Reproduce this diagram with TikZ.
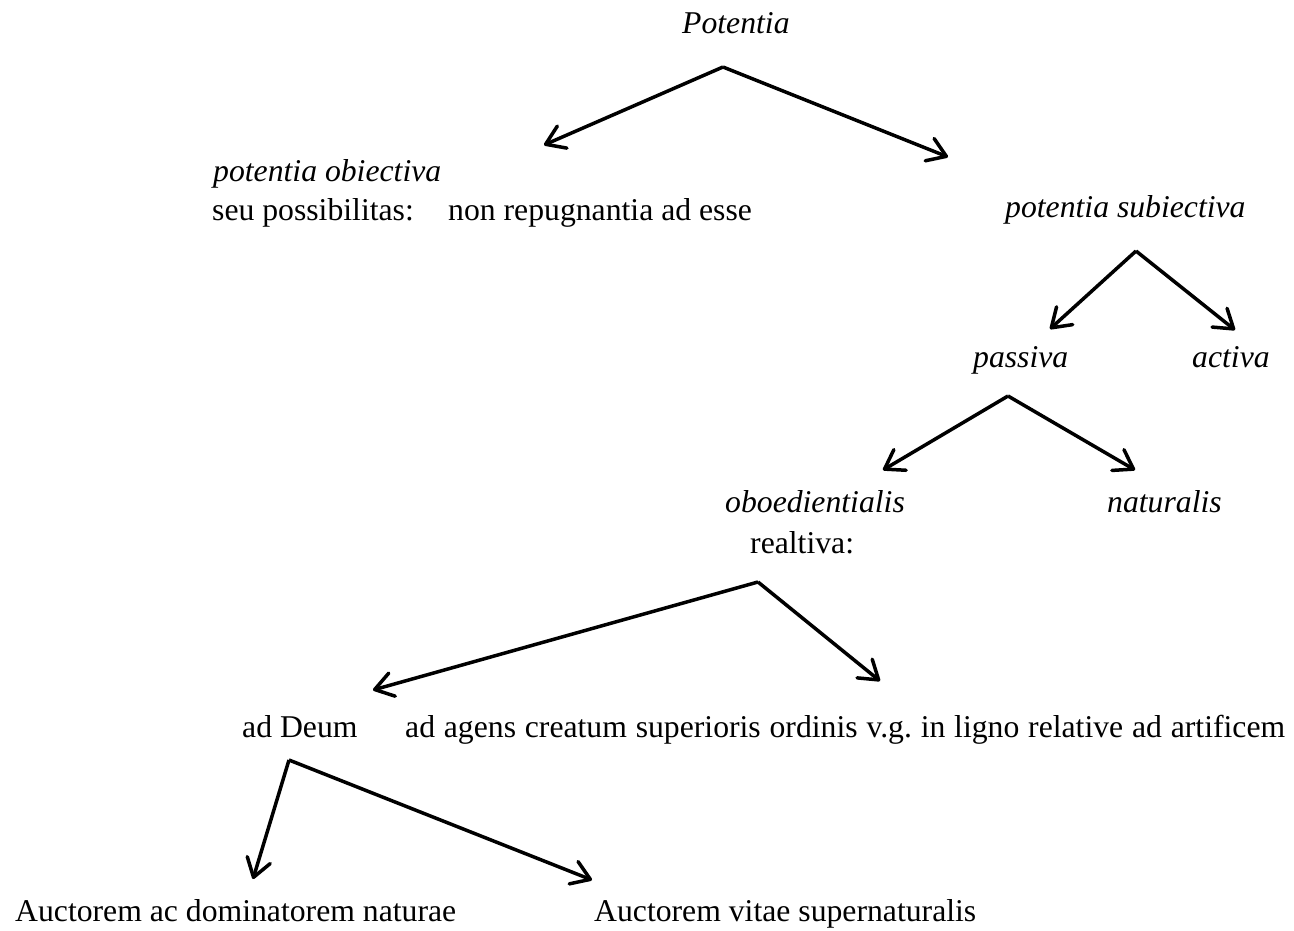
\documentclass[tikz,border=0pt]{standalone}
\usepackage{fontspec}
\setmainfont{Liberation Serif}
\usetikzlibrary{arrows.meta}
\tikzset{
  lbl/.style={anchor=base west, inner sep=0pt, font=\fontsize{31.7}{38}\selectfont\frenchspacing},
  ilbl/.style={lbl, font=\fontsize{31.7}{38}\selectfont\itshape},
  conn/.style={line width=3.5pt, line join=miter, -{Straight Barb[length=18pt,width=24pt,line width=3.5pt,round]}}
}
\begin{document}
\begin{tikzpicture}[x=1pt,y=-1pt]
\useasboundingbox (0,0) rectangle (1294,931);
% texts
\node[ilbl] (pot) at (682,34) {Potentia};
\node[ilbl] (obj) at (213,182) {potentia obiectiva};
\node[lbl] (seu) at (212,220) {seu possibilitas:};
\node[lbl] (nonrep) at (448,220) {non repugnantia ad esse};
\node[ilbl] (subj) at (1005,218) {potentia subiectiva};
\node[ilbl] (pass) at (973,367) {passiva};
\node[ilbl] (act) at (1192,367) {activa};
\node[ilbl] (obo) at (725,512) {oboedientialis};
\node[lbl] (rel) at (750,553) {realtiva:};
\node[ilbl] (nat) at (1107,512) {naturalis};
\node[lbl] (deum) at (242,737) {ad Deum};
\node[lbl] (agens) at (405,737) {\spaceskip=8.8pt plus 1pt ad agens creatum superioris ordinis v.g. in ligno relative ad artificem};
\node[lbl] (auct1) at (15,921) {Auctorem ac dominatorem naturae};
\node[lbl] (auct2) at (594,921) {Auctorem vitae supernaturalis};
% connector points
\coordinate (a1) at (723,67);
\coordinate (t1l) at (544,145);
\coordinate (t1r) at (948,157);
\coordinate (a2) at (1136,251);
\coordinate (t2l) at (1050,329);
\coordinate (t2r) at (1235,330);
\coordinate (a3) at (1008,396);
\coordinate (t3l) at (883,470);
\coordinate (t3r) at (1135,470);
\coordinate (a4) at (758,582);
\coordinate (t4l) at (373,690);
\coordinate (t4r) at (880,681);
\coordinate (a5) at (289,760);
\coordinate (t5l) at (253,879);
\coordinate (t5r) at (592,880);
% connectors
\draw[conn] (a1) -- (t1l);
\draw[conn] (a1) -- (t1r);
\draw[conn] (a2) -- (t2l);
\draw[conn] (a2) -- (t2r);
\draw[conn] (a3) -- (t3l);
\draw[conn] (a3) -- (t3r);
\draw[conn] (a4) -- (t4l);
\draw[conn] (a4) -- (t4r);
\draw[conn] (a5) -- (t5l);
\draw[conn] (a5) -- (t5r);
\end{tikzpicture}
\end{document}
